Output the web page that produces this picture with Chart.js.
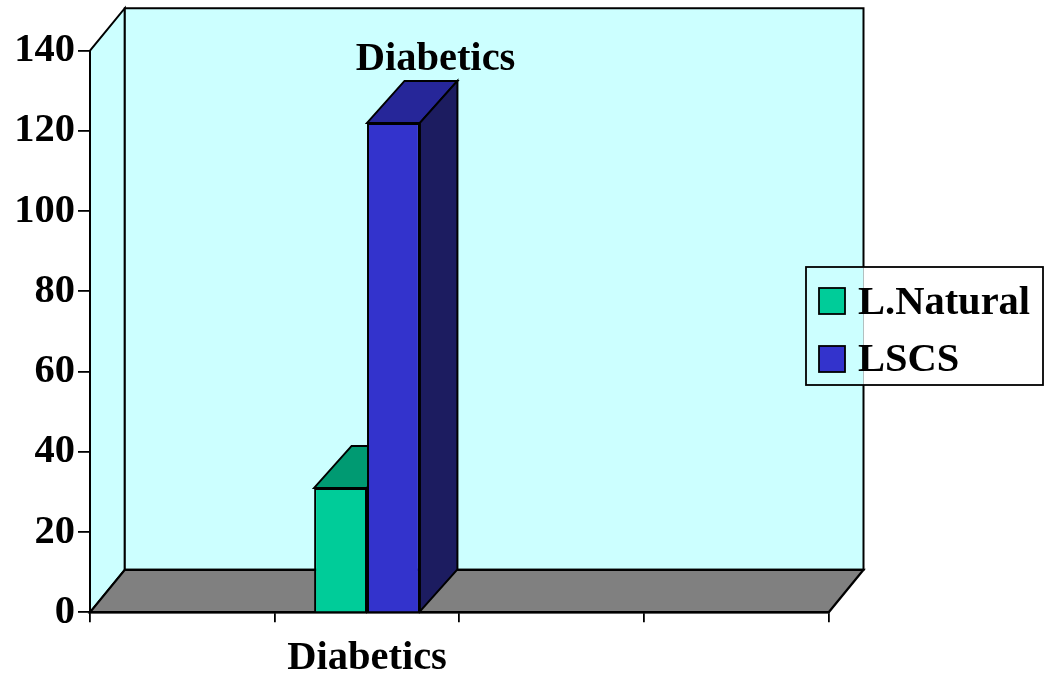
<!DOCTYPE html>
<html><head><meta charset="utf-8">
<script src="https://cdn.jsdelivr.net/npm/chart.js@4/dist/chart.umd.min.js"></script>
<style>html,body{margin:0;padding:0;background:#fff}canvas{display:block}</style>
</head><body>
<canvas id="c" width="1045" height="679"></canvas>
<script>
// ---- data ----
const categories = ['', 'Diabetics', '', ''];
const seriesNames = ['L.Natural', 'LSCS'];
const naturalValues = [null, 31, null, null];
const lscsValues = [null, 122, null, null];
const yTickValues = [0, 20, 40, 60, 80, 100, 120, 140];
const chartTitle = 'Diabetics';

// ---- style ----
const FAMILY = "'Liberation Serif', 'Times New Roman', serif";
const FSIZE = 40.5;
const FONT = 'bold ' + FSIZE + 'px ' + FAMILY;
const WALL = {dx: 34.8, dy: 42.5};
const BAR = {dx: 37.5, dy: 42};
const frontColors = ['#00CC99', '#3333CC'];
const topColors = ['#009A72', '#262699'];
const sideColors = ['#007355', '#1C1C60'];
const WALL_FILL = '#CCFFFF';
const FLOOR_FILL = '#808080';

function poly(ctx, pts, fill) {
  ctx.beginPath();
  ctx.moveTo(pts[0][0], pts[0][1]);
  for (let i = 1; i < pts.length; i++) ctx.lineTo(pts[i][0], pts[i][1]);
  ctx.closePath();
  ctx.fillStyle = fill;
  ctx.fill();
  ctx.stroke();
}

const LEGEND = {x: 806, y: 267, w: 237, h: 118};

const threeD = {
  id: 'threeD',
  beforeDraw(chart) {
    const ctx = chart.ctx, a = chart.chartArea, ys = chart.scales.y;
    const L = a.left, R = a.right, B = ys.getPixelForValue(0), T = ys.getPixelForValue(ys.max);
    ctx.save();
    ctx.lineWidth = 2; ctx.strokeStyle = '#000';
    poly(ctx, [[L, B], [L, T], [L + WALL.dx, T - WALL.dy], [L + WALL.dx, B - WALL.dy]], WALL_FILL);
    poly(ctx, [[L + WALL.dx, T - WALL.dy], [R + WALL.dx, T - WALL.dy], [R + WALL.dx, B - WALL.dy], [L + WALL.dx, B - WALL.dy]], WALL_FILL);
    ctx.lineWidth = 2.2;
    poly(ctx, [[L, B], [R, B], [R + WALL.dx, B - WALL.dy], [L + WALL.dx, B - WALL.dy]], FLOOR_FILL);
    // title
    ctx.fillStyle = '#000';
    ctx.font = FONT;
    ctx.textAlign = 'center';
    ctx.textBaseline = 'alphabetic';
    ctx.fillText(chartTitle, 435.5, 70);
    ctx.restore();
  },
  beforeDatasetsDraw(chart) {
    const ctx = chart.ctx;
    ctx.save();
    ctx.lineWidth = 2; ctx.strokeStyle = '#000'; ctx.lineJoin = 'miter';
    const items = [];
    chart.data.datasets.forEach((ds, di) => {
      const meta = chart.getDatasetMeta(di);
      meta.data.forEach((el, i) => {
        if (ds.data[i] == null) return;
        const p = el.getProps(['x', 'y', 'base', 'width'], true);
        items.push({di, p});
      });
    });
    items.sort((u, v) => u.p.x - v.p.x);
    items.forEach(({di, p}) => {
      const l = p.x - p.width / 2, r = p.x + p.width / 2;
      poly(ctx, [[l, p.y], [r, p.y], [r + BAR.dx, p.y - BAR.dy], [l + BAR.dx, p.y - BAR.dy]], topColors[di]);
      poly(ctx, [[r, p.y], [r + BAR.dx, p.y - BAR.dy], [r + BAR.dx, p.base - BAR.dy], [r, p.base]], sideColors[di]);
    });
    ctx.restore();
  },
  afterDraw(chart) {
    const ctx = chart.ctx, a = chart.chartArea;
    const wallRight = a.right + WALL.dx;
    ctx.save();
    // hide wall edge line inside legend box
    ctx.fillStyle = WALL_FILL;
    ctx.fillRect(wallRight - 2, LEGEND.y, 2, LEGEND.h);
    ctx.fillStyle = '#fff';
    ctx.fillRect(wallRight, LEGEND.y, 2, LEGEND.h);
    ctx.lineWidth = 1.8; ctx.strokeStyle = '#000';
    ctx.strokeRect(LEGEND.x, LEGEND.y, LEGEND.w, LEGEND.h);
    ctx.font = FONT;
    ctx.textAlign = 'left';
    ctx.textBaseline = 'alphabetic';
    chart.data.datasets.forEach((ds, i) => {
      const sy = 288 + i * 58;
      ctx.fillStyle = ds.backgroundColor;
      ctx.fillRect(819, sy, 26, 26);
      ctx.strokeRect(819, sy, 26, 26);
      ctx.fillStyle = '#000';
      ctx.fillText(ds.label, 858, 313.5 + i * 57.5);
    });
    ctx.restore();
  }
};

new Chart(document.getElementById('c'), {
  type: 'bar',
  data: {
    labels: categories,
    datasets: [
      {label: seriesNames[0], data: naturalValues, backgroundColor: frontColors[0], borderColor: '#000', borderWidth: 2},
      {label: seriesNames[1], data: lscsValues, backgroundColor: frontColors[1], borderColor: '#000', borderWidth: 2}
    ]
  },
  options: {
    responsive: false,
    animation: false,
    devicePixelRatio: 1,
    layout: {padding: {left: 0, top: 50.7, right: 216.3, bottom: 0}},
    datasets: {bar: {categoryPercentage: 0.573, barPercentage: 1.0}},
    plugins: {legend: {display: false}, title: {display: false}, tooltip: {enabled: false}},
    scales: {
      x: {
        afterFit(s) { s.height = 66.7; },
        grid: {display: true, drawOnChartArea: false, drawTicks: true, tickLength: 10, color: '#000', lineWidth: 1.8, offset: true},
        border: {display: true, color: '#000', width: 2.2},
        ticks: {color: '#000', font: {family: FAMILY, size: FSIZE, weight: 'bold'}, padding: 12, maxRotation: 0, autoSkip: false}
      },
      y: {
        min: 0, max: 140,
        afterFit(s) { s.width = 90; },
        afterBuildTicks(s) { s.ticks = yTickValues.map(v => ({value: v})); },
        grid: {display: true, drawOnChartArea: false, drawTicks: true, tickLength: 12, color: '#000', lineWidth: 1.8},
        border: {display: true, color: '#000', width: 2},
        ticks: {color: '#000', font: {family: FAMILY, size: FSIZE, weight: 'bold'}, padding: 3}
      }
    }
  },
  plugins: [threeD]
});
</script>
</body></html>
